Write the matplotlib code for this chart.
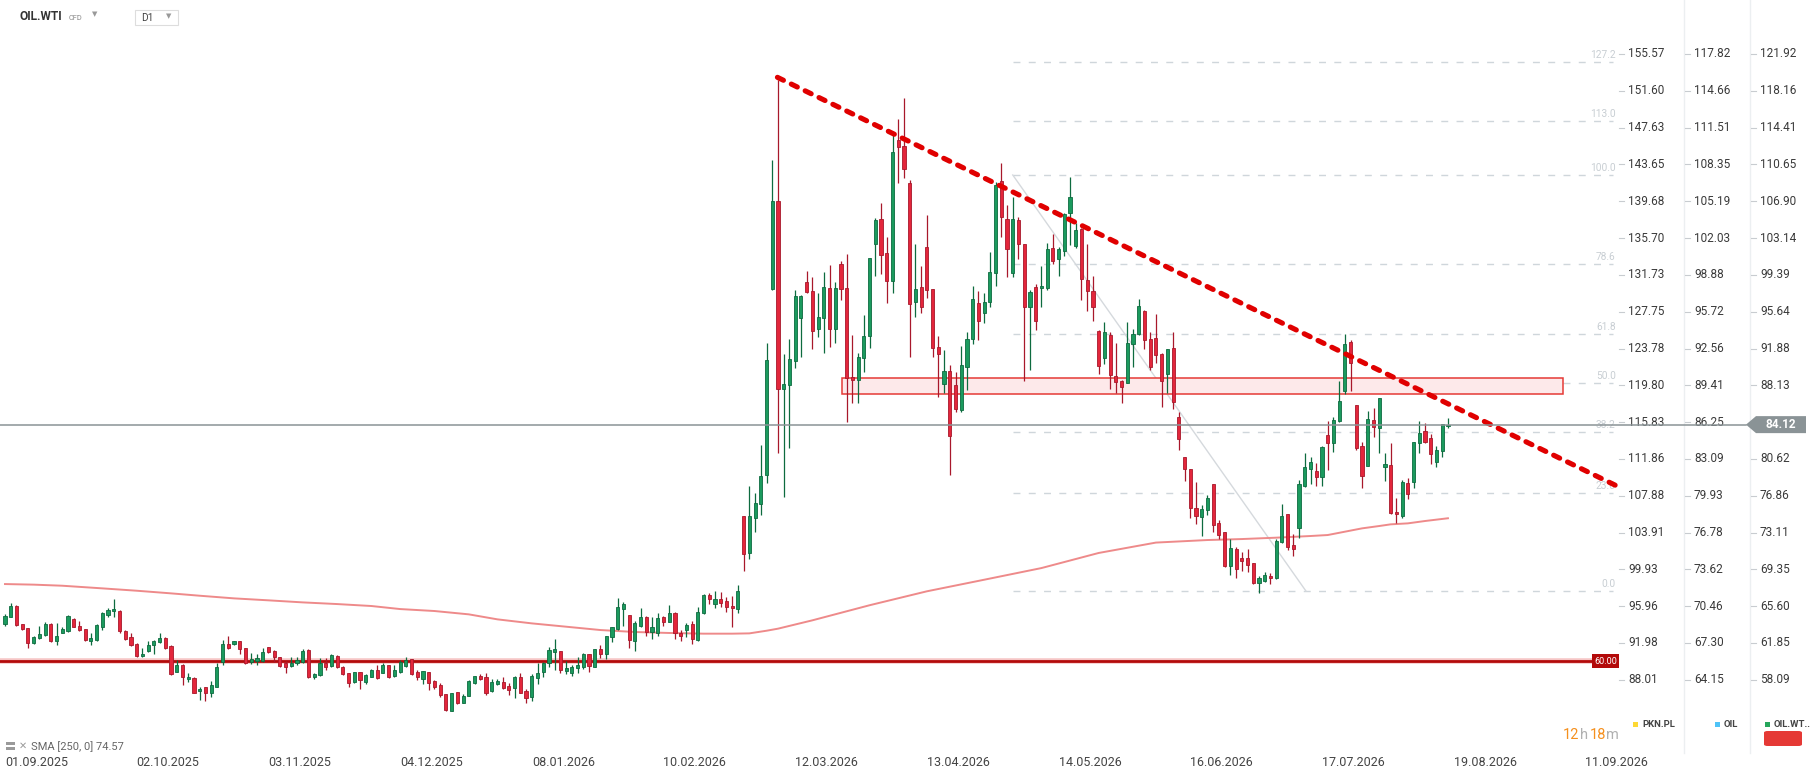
import matplotlib
matplotlib.use("Agg")
import matplotlib.pyplot as plt
from matplotlib.lines import Line2D
from matplotlib.patches import Rectangle, Polygon, FancyBboxPatch
from matplotlib.transforms import blended_transform_factory, offset_copy

plt.rcParams["font.family"] = ["Roboto", "DejaVu Sans"]

W, H = 1818, 779

# daily OHLC, bar 0 = 01.09.2025
opens = [
    63.78, 64.53, 65.62, 63.78, 63.34, 61.88, 62.32, 62.63, 63.78, 62.08,
    62.90, 63.10, 64.26, 63.58, 63.24, 62.08, 62.15, 63.51, 64.67, 65.07,
    65.07, 63.10, 62.42, 61.74, 60.52, 61.06, 61.64, 61.95, 62.32, 61.54,
    58.92, 59.60, 58.14, 58.24, 56.98, 57.32, 56.78, 57.39, 59.94, 61.74,
    61.74, 62.01, 61.30, 59.94, 60.04, 60.04, 61.40, 61.03, 60.38, 59.77,
    59.53, 59.77, 59.94, 61.13, 58.34, 58.55, 59.77, 59.50, 60.55, 59.43,
    58.75, 57.90, 58.85, 57.90, 58.41, 59.09, 58.82, 59.60, 58.48, 58.92,
    59.53, 60.21, 58.85, 58.17, 58.85, 58.00, 57.56, 56.61, 54.94, 56.81,
    55.76, 56.47, 57.80, 58.48, 58.34, 56.98, 57.66, 57.90, 57.46, 57.29,
    58.34, 56.98, 56.30, 58.24, 58.92, 59.84, 60.96, 61.00, 59.02, 58.82,
    59.33, 59.43, 60.69, 59.43, 61.23, 60.69, 62.42, 63.27, 65.35, 64.70,
    62.08, 63.61, 64.46, 62.97, 62.83, 64.46, 64.02, 64.87, 62.83, 63.17,
    63.78, 62.15, 64.87, 66.74, 65.82, 66.30, 66.10, 65.62, 65.28, 74.80,
    71.06, 74.56, 75.99, 78.95, 97.92, 106.93, 87.72, 88.16, 90.64, 94.96,
    98.63, 97.75, 93.84, 94.96, 98.09, 93.84, 100.47, 98.02, 89.01, 88.67,
    90.88, 93.16, 102.51, 105.06, 101.59, 98.77, 113.15, 112.57, 108.73, 96.59,
    98.19, 102.20, 97.92, 92.00, 88.26, 89.62, 88.16, 85.61, 89.96, 92.82,
    96.49, 95.47, 96.59, 99.55, 109.00, 105.06, 99.55, 104.99, 102.51, 96.15,
    98.12, 98.02, 98.09, 102.10, 100.98, 101.83, 105.74, 102.37, 104.04, 98.87,
    97.78, 93.70, 90.88, 93.26, 89.11, 88.57, 88.40, 92.34, 93.33, 95.74,
    92.82, 92.92, 91.32, 89.25, 91.90, 84.93, 80.78, 79.56, 75.58, 74.73,
    75.41, 78.06, 74.05, 73.13, 69.73, 71.40, 70.48, 70.48, 69.97, 67.93,
    68.20, 68.68, 68.44, 72.18, 74.97, 71.84, 73.61, 77.89, 79.56, 79.43,
    78.74, 83.06, 82.28, 84.49, 87.58, 92.51, 86.12, 81.94, 79.93, 84.59,
    83.74, 79.83, 80.00, 75.17, 74.83, 78.13, 78.23, 82.21, 83.47, 82.72,
    80.27, 81.46, 83.98,
]
highs = [
    64.80, 65.89, 65.70, 63.80, 63.40, 62.56, 63.58, 63.95, 63.85, 63.85,
    63.51, 64.70, 64.36, 64.12, 63.30, 62.83, 63.78, 65.04, 65.38, 66.30,
    65.21, 63.17, 62.83, 61.80, 61.30, 62.08, 62.15, 62.83, 62.49, 61.60,
    60.11, 59.67, 58.82, 58.41, 57.32, 57.35, 57.97, 59.84, 62.15, 62.56,
    62.05, 62.05, 61.35, 60.86, 60.72, 61.30, 61.47, 61.13, 60.40, 60.04,
    60.38, 60.38, 61.23, 61.20, 58.82, 60.28, 60.28, 60.72, 60.60, 59.50,
    58.80, 58.92, 58.92, 58.68, 59.16, 59.60, 59.77, 59.65, 59.60, 60.11,
    60.38, 60.25, 59.09, 59.00, 58.90, 58.07, 57.73, 56.65, 56.78, 56.85,
    56.61, 58.07, 58.51, 58.65, 58.75, 58.17, 58.14, 58.41, 57.80, 58.48,
    58.75, 57.12, 58.65, 59.77, 59.94, 61.40, 62.22, 61.05, 60.04, 59.57,
    60.45, 60.86, 60.75, 61.25, 61.64, 62.60, 63.51, 66.47, 66.06, 64.75,
    64.09, 65.45, 64.60, 64.46, 64.87, 64.60, 65.72, 64.97, 63.17, 63.85,
    64.09, 65.55, 66.84, 66.91, 67.18, 67.01, 66.57, 66.64, 67.76, 74.85,
    77.86, 77.18, 82.04, 92.48, 111.11, 119.27, 91.33, 92.85, 97.85, 97.30,
    99.82, 99.14, 97.58, 99.65, 100.40, 98.63, 100.84, 101.52, 93.26, 91.39,
    95.30, 101.10, 105.16, 106.69, 103.22, 114.00, 115.26, 117.40, 109.07, 102.54,
    100.30, 105.50, 97.95, 93.16, 91.73, 90.20, 89.52, 92.14, 93.60, 98.26,
    97.78, 97.51, 101.76, 108.90, 110.84, 106.52, 107.37, 105.26, 102.55, 97.85,
    98.43, 100.30, 102.61, 103.56, 102.27, 105.74, 109.41, 104.72, 104.14, 102.54,
    99.28, 93.75, 94.62, 93.53, 92.41, 88.67, 94.55, 93.87, 96.90, 95.80,
    93.53, 95.40, 91.39, 91.85, 93.53, 85.37, 80.80, 79.60, 78.23, 75.92,
    76.94, 78.10, 74.39, 73.15, 72.42, 71.67, 71.16, 71.43, 70.00, 68.71,
    69.12, 69.02, 72.42, 76.02, 75.00, 72.96, 78.47, 81.26, 80.85, 80.17,
    81.94, 84.49, 84.93, 88.57, 93.36, 92.75, 86.15, 82.31, 85.51, 85.78,
    86.85, 81.19, 82.21, 76.60, 78.47, 78.64, 82.35, 84.49, 84.25, 83.16,
    81.94, 84.20, 84.83,
]
lows = [
    63.58, 64.46, 63.60, 63.17, 61.37, 61.74, 62.25, 62.56, 62.00, 61.64,
    62.83, 63.00, 63.44, 63.03, 62.10, 61.61, 62.08, 63.17, 64.53, 64.53,
    62.90, 62.15, 61.54, 60.38, 60.45, 60.96, 60.69, 61.88, 61.20, 58.58,
    58.85, 57.56, 57.90, 56.70, 56.03, 55.96, 56.30, 57.32, 59.60, 61.20,
    61.67, 60.69, 59.70, 59.70, 59.60, 59.94, 60.79, 59.94, 59.43, 58.82,
    59.43, 59.60, 59.77, 58.30, 58.14, 58.48, 59.09, 59.43, 59.30, 58.55,
    57.32, 57.80, 57.12, 57.66, 58.34, 58.21, 58.75, 58.24, 58.41, 58.75,
    59.36, 58.58, 58.07, 57.63, 57.05, 57.12, 56.37, 54.94, 54.90, 55.62,
    55.69, 56.44, 57.66, 58.07, 56.54, 56.88, 57.56, 57.12, 56.54, 56.27,
    56.71, 55.76, 55.96, 57.63, 58.41, 59.43, 59.09, 58.82, 58.68, 58.51,
    58.75, 59.16, 58.92, 59.40, 60.28, 60.18, 61.98, 63.17, 63.58, 61.37,
    61.06, 63.51, 62.56, 62.22, 62.56, 63.58, 63.95, 62.25, 62.08, 62.42,
    61.74, 62.08, 64.80, 65.79, 65.38, 65.55, 65.04, 63.51, 64.87, 69.22,
    70.38, 73.20, 74.90, 78.20, 97.90, 81.19, 76.70, 81.70, 89.86, 91.05,
    97.51, 91.80, 93.09, 91.39, 92.07, 92.41, 96.83, 84.42, 86.29, 86.36,
    89.52, 91.97, 99.31, 99.48, 96.49, 97.51, 108.80, 109.31, 90.98, 95.13,
    95.47, 97.00, 90.98, 86.90, 87.31, 78.98, 85.44, 85.44, 87.65, 92.35,
    92.75, 94.52, 96.15, 98.29, 103.29, 99.21, 99.14, 100.98, 88.60, 89.69,
    93.77, 96.08, 97.85, 100.50, 99.31, 101.32, 102.44, 102.10, 96.83, 95.74,
    94.72, 89.28, 90.30, 87.72, 87.31, 86.29, 88.33, 90.03, 93.26, 91.83,
    89.69, 90.37, 85.88, 87.31, 85.68, 81.53, 78.40, 74.63, 73.98, 72.79,
    74.90, 73.20, 72.42, 69.63, 68.78, 68.51, 69.22, 69.12, 67.86, 66.98,
    68.10, 67.83, 68.37, 72.08, 71.33, 70.72, 72.59, 77.79, 78.06, 77.89,
    77.89, 79.49, 81.36, 84.35, 87.24, 87.58, 81.53, 77.69, 79.90, 82.89,
    81.19, 78.40, 75.00, 74.12, 74.63, 76.50, 77.69, 81.26, 82.28, 80.07,
    79.83, 80.78, 83.74,
]
closes = [
    64.60, 65.62, 63.65, 63.24, 61.88, 62.42, 62.73, 63.78, 62.08, 62.56,
    63.24, 64.60, 63.51, 63.17, 62.15, 62.32, 63.68, 64.94, 65.21, 65.28,
    63.10, 62.25, 61.64, 60.55, 60.72, 61.64, 62.05, 62.32, 61.37, 58.68,
    59.60, 58.41, 58.38, 56.78, 57.15, 56.78, 57.56, 59.43, 61.74, 61.30,
    62.01, 61.20, 59.84, 60.18, 60.28, 60.96, 60.89, 60.38, 59.50, 59.43,
    59.77, 60.11, 61.06, 58.34, 58.65, 59.84, 59.43, 60.62, 59.36, 58.65,
    57.80, 58.85, 58.07, 58.58, 59.09, 58.31, 59.60, 58.41, 59.09, 59.94,
    60.11, 58.68, 58.34, 58.99, 57.80, 57.32, 56.54, 55.01, 56.71, 55.69,
    56.47, 58.00, 58.48, 58.14, 56.78, 57.83, 57.94, 57.22, 57.05, 58.34,
    56.78, 56.27, 58.48, 58.75, 59.84, 61.13, 61.23, 59.09, 59.33, 59.43,
    59.60, 60.72, 59.53, 61.20, 60.69, 62.56, 63.44, 65.48, 65.82, 62.15,
    63.85, 64.46, 62.97, 63.44, 64.36, 64.02, 64.87, 62.83, 62.59, 63.65,
    62.22, 65.04, 66.74, 66.30, 66.30, 65.96, 65.48, 65.38, 67.18, 70.89,
    74.80, 76.09, 78.88, 90.71, 106.93, 87.72, 88.26, 90.78, 97.24, 97.24,
    97.61, 93.70, 95.06, 98.12, 93.84, 98.02, 97.92, 88.84, 88.67, 90.98,
    93.19, 101.08, 104.99, 101.42, 98.77, 111.96, 112.40, 110.19, 96.39, 97.92,
    96.08, 97.85, 91.90, 91.33, 89.62, 82.96, 85.68, 90.20, 92.82, 96.90,
    94.69, 96.59, 99.65, 108.56, 105.26, 102.00, 105.06, 102.51, 96.08, 97.61,
    94.72, 98.29, 102.03, 100.84, 102.03, 105.60, 107.30, 103.97, 98.94, 97.78,
    96.08, 90.13, 93.53, 89.18, 88.43, 87.92, 92.41, 93.33, 96.22, 92.75,
    90.03, 91.22, 88.57, 91.80, 86.40, 82.62, 79.63, 75.65, 74.83, 75.48,
    76.60, 73.88, 72.86, 69.70, 71.50, 69.36, 70.24, 69.80, 67.93, 68.44,
    68.78, 68.44, 72.25, 74.80, 71.67, 71.40, 78.06, 79.76, 80.27, 78.74,
    81.87, 82.28, 84.59, 86.53, 92.34, 90.37, 81.77, 78.91, 84.69, 83.84,
    86.80, 80.10, 75.07, 74.97, 78.30, 77.01, 82.31, 83.23, 82.38, 81.09,
    81.53, 84.15, 84.12,
]

# SMA(250): bar index -> value
sma_idx = [0, 5, 10, 17, 23, 29, 34, 40, 46, 52, 58, 64, 69, 75, 81, 86, 92,
           98, 104, 110, 116, 122, 127, 130, 133, 135, 141, 151, 161, 171,
           181, 191, 201, 210, 216, 222, 228, 231, 234, 237, 240, 242, 245,
           248, 252]
sma_val = [67.86, 67.80, 67.69, 67.42, 67.18, 66.91, 66.67, 66.40, 66.20,
           65.99, 65.82, 65.62, 65.31, 65.11, 64.77, 64.26, 63.85, 63.51,
           63.17, 62.97, 62.87, 62.80, 62.80, 62.83, 63.10, 63.31, 64.16,
           65.70, 67.12, 68.30, 69.49, 71.03, 72.09, 72.35, 72.45, 72.59,
           72.76, 72.86, 73.20, 73.54, 73.78, 73.95, 74.05, 74.29, 74.57]
sma_label = "SMA [250, 0] 74.57"

date_idx = [0, 23, 46, 69, 92, 115, 138, 161, 184, 207, 230, 253, 276]
date_labels = ["01.09.2025", "02.10.2025", "03.11.2025", "04.12.2025",
               "08.01.2026", "10.02.2026", "12.03.2026", "13.04.2026",
               "14.05.2026", "16.06.2026", "17.07.2026", "19.08.2026",
               "11.09.2026"]

# price scale of OIL.WTI and the two other instruments on the same rows
wti_ticks = [121.92, 118.16, 114.41, 110.65, 106.90, 103.14, 99.39, 95.64,
             91.88, 88.13, 84.37, 80.62, 76.86, 73.11, 69.35, 65.60, 61.85,
             58.09]
pkn_labels = ["155.57", "151.60", "147.63", "143.65", "139.68", "135.70",
              "131.73", "127.75", "123.78", "119.80", "115.83", "111.86",
              "107.88", "103.91", "99.93", "95.96", "91.98", "88.01"]
oil_labels = ["117.82", "114.66", "111.51", "108.35", "105.19", "102.03",
              "98.88", "95.72", "92.56", "89.41", "86.25", "83.09", "79.93",
              "76.78", "73.62", "70.46", "67.30", "64.15"]
# the 84.37 row is hidden under the last-price badge
wti_labels = ["121.92", "118.16", "114.41", "110.65", "106.90", "103.14",
              "99.39", "95.64", "91.88", "88.13", "", "80.62", "76.86",
              "73.11", "69.35", "65.60", "61.85", "58.09"]

last_price = 84.12
level_60 = 60.00

# drawings
fib_low, fib_high = 67.15, 109.58
fib_ratios = [0.0, 0.236, 0.382, 0.5, 0.618, 0.786, 1.0, 1.13, 1.272]
fib_names = ["0.0", "23.6", "38.2", "50.0", "61.8", "78.6", "100.0", "113.0", "127.2"]
fib_x = (176.0, 280.8)
fib_diag = ([176.0, 227.2], [109.58, 67.15])
trend_x = [134.9, 281.5]
trend_y = [119.54, 77.86]
zone_x = (146.2, 272.1)
zone_y = (87.21, 88.85)

UP, UP_EDGE = "#1b9a5e", "#0d6b3f"
DN, DN_EDGE = "#e3263b", "#a8182b"

fig = plt.figure(figsize=(W / 100, H / 100), dpi=100)
fig.patch.set_facecolor("white")
ax = fig.add_axes([0, (H - 720) / H, 1618 / W, 720 / H])
ax.set_xlim(-0.873, 281.7)
ax.set_ylim(53.995, 127.427)
ax.axis("off")

px_per_unit = 720 / (127.427 - 53.995)


def fx(x):
    return x / W


def fy(y):
    return 1 - y / H


# fibonacci retracement
for r, name in zip(fib_ratios, fib_names):
    lvl = fib_low + r * (fib_high - fib_low)
    ax.hlines(lvl, fib_x[0], fib_x[1], colors="#cfd6db", lw=1,
              linestyles=(0, (5, 6)), zorder=1)
    ax.text(281.3, lvl, name, ha="right", va="bottom", fontsize=7.3,
            color="#c8ced3", zorder=1,
            transform=offset_copy(ax.transData, fig, y=2, units="dots"))
ax.plot(fib_diag[0], fib_diag[1], color="#d5d9dd", lw=1, zorder=1)

# resistance zone
ax.add_patch(Rectangle((zone_x[0], zone_y[0]), zone_x[1] - zone_x[0],
                       zone_y[1] - zone_y[0], fc="#fde9ea", ec="#e53935",
                       lw=1.1, zorder=2))

# sma
ax.plot(sma_idx, sma_val, color="#ee8a8a", lw=1.4, zorder=2)

# 60 support line
ax.axhline(level_60, color="#f0a0a0", lw=4, alpha=0.6, zorder=2)
ax.axhline(level_60, color="#b30a0a", lw=2, zorder=2)

# candles
for i in range(len(opens)):
    o, h, l, c = opens[i], highs[i], lows[i], closes[i]
    up = c >= o
    face = UP if up else DN
    edge = UP_EDGE if up else DN_EDGE
    ax.vlines(i, l, h, color=edge, lw=0.9, zorder=3)
    body = max(abs(c - o), 0.12)
    ax.bar(i, body, bottom=min(o, c), width=0.55, color=face,
           edgecolor=edge, linewidth=0.6, zorder=4)

# down trend line
ax.plot(trend_x, trend_y, color="#e00000", lw=3.7, linestyle=(0, (1.3, 1.7)),
        dash_capstyle="round", zorder=5)

trans = blended_transform_factory(fig.transFigure, ax.transData)
trans_x = blended_transform_factory(ax.transData, fig.transFigure)

# last price line across chart and price scales
fig.add_artist(Line2D([0, fx(1746)], [last_price, last_price], transform=trans,
                      color="#8a9396", lw=1.1, zorder=6))

# 60.00 tag
fig.text(fx(1617), level_60, "60.00", transform=trans, ha="right",
         va="center", fontsize=6.5, color="white", zorder=7,
         bbox=dict(boxstyle="square,pad=0.25", fc="#b30a0a", ec="none"))

# scale separators
for xs in (1684, 1750):
    fig.add_artist(Line2D([fx(xs), fx(xs)], [fy(0), fy(753)], color="#eceff1",
                          lw=1, zorder=1))

# three price scales
for val, a, b, c in zip(wti_ticks, pkn_labels, oil_labels, wti_labels):
    for tx, lab in ((1619, a), (1685, b), (1751, c)):
        fig.add_artist(Line2D([fx(tx), fx(tx + 5)], [val, val], transform=trans,
                              color="#c8ccd0", lw=0.8))
        if lab:
            fig.text(fx(tx + 9), val, lab, transform=trans, ha="left",
                     va="center", fontsize=8.5, color="#3a3a3a")

# last price badge
hh = 8.5 / px_per_unit
badge = Polygon([(fx(1746), last_price), (fx(1756), last_price + hh),
                 (fx(1806), last_price + hh), (fx(1806), last_price - hh),
                 (fx(1756), last_price - hh)], closed=True, transform=trans,
                fc="#8a9396", ec="none", zorder=8)
fig.add_artist(badge)
fig.text(fx(1781), last_price, f"{last_price:.2f}", transform=trans,
         ha="center", va="center", fontsize=8.5, fontweight="bold",
         color="white", zorder=9)

# date axis
for idx, lab in zip(date_idx, date_labels):
    fig.text(idx, fy(762), lab, transform=trans_x, ha="left", va="center",
             fontsize=9, color="#444444")

# header
fig.text(fx(20), fy(17), "OIL.WTI", ha="left", va="center", fontsize=8.6,
         fontweight="bold", color="#333333")
fig.text(fx(69), fy(18), "CFD", ha="left", va="center", fontsize=5.3,
         color="#888888")
fig.text(fx(92), fy(15), "▼", ha="left", va="center", fontsize=5,
         color="#999999")
fig.add_artist(Rectangle((fx(135), fy(25)), fx(43), 15 / H, transform=fig.transFigure,
                         fc="white", ec="#dddddd", lw=0.8))
fig.text(fx(141), fy(18), "D1", ha="left", va="center", fontsize=7.3,
         color="#444444")
fig.text(fx(166), fy(17), "▼", ha="left", va="center", fontsize=5,
         color="#999999")

# indicator legend
fig.add_artist(Rectangle((fx(6), fy(745)), fx(9), 3 / H, transform=fig.transFigure,
                         fc="#9a9a9a", ec="none"))
fig.add_artist(Rectangle((fx(6), fy(750)), fx(9), 3 / H, transform=fig.transFigure,
                         fc="#9a9a9a", ec="none"))
fig.text(fx(19), fy(746), "✕", ha="left", va="center", fontsize=7,
         fontweight="bold", color="#9a9a9a")
fig.text(fx(31), fy(747), sma_label, ha="left", va="center", fontsize=8,
         color="#666666")

# countdown
for x0, s, col in ((1563, "12", "#f5901e"), (1580, "h", "#b0b0b0"),
                   (1590, "18", "#f5901e"), (1606, "m", "#b0b0b0")):
    fig.text(fx(x0), fy(735), s, ha="left", va="center", fontsize=10.5,
             color=col)

# instrument legend
for x0, col, name in ((1633, "#fdd835", "PKN.PL"), (1715, "#4fc3f7", "OIL"),
                      (1765, "#26a65b", "OIL.WT..")):
    fig.add_artist(Rectangle((fx(x0), fy(727)), fx(5), 5 / H,
                             transform=fig.transFigure, fc=col, ec="none"))
    fig.text(fx(x0 + 9), fy(724.5), name, ha="left", va="center", fontsize=6.8,
             fontweight="bold", color="#444444")
fig.add_artist(FancyBboxPatch((fx(1764), fy(746)), fx(38), 15 / H,
                              boxstyle="round,pad=0,rounding_size=0.002",
                              transform=fig.transFigure, fc="#e53935", ec="none"))

fig.savefig("out.png", dpi=100)
